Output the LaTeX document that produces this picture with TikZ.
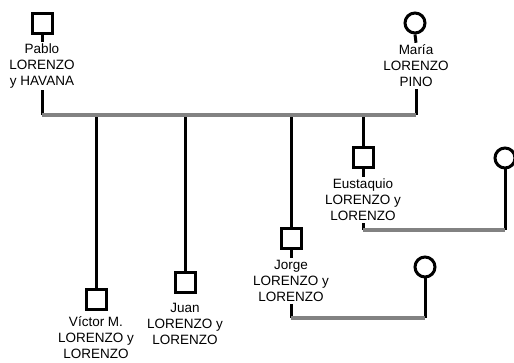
\documentclass[tikz,border=0pt]{standalone}
\usepackage{fontspec}
\setmainfont{Liberation Sans}
\usetikzlibrary{positioning}
\definecolor{mgray}{RGB}{130,130,130}
\tikzset{
  male/.style={draw, rectangle, line width=3pt, minimum size=20pt, inner sep=0pt},
  fem/.style={draw, circle, line width=3pt, minimum size=20pt, inner sep=0pt},
  pname/.style={font=\fontsize{13.5}{16}\selectfont, align=center, inner sep=2pt},
  kin/.style={black, line width=3pt},
  mar/.style={mgray, line width=3.5pt},
}

\begin{document}
\begin{tikzpicture}[x=1pt, y=-1pt]
        \useasboundingbox (0,0) rectangle (514,363);
        % parents
        \node[male] (pablo) at (42,24) {};
        \node[pname] (pablol) at (42,66) {Pablo\\LORENZO\\y HAVANA};
        \node[fem] (maria) at (415,23) {};
        \node[pname] (marial) at (416,66) {María\\LORENZO\\PINO};
        \coordinate (pj) at (42,115);
        \coordinate (mj) at (416,115);
        \draw[kin] (pablo.south) -- (pablol.north);
        \draw[kin] (maria.south) -- (marial.north);
        \draw[kin] (pablol.south) -- (pj);
        \draw[kin] (marial.south) -- (mj);
        % children
        \node[male] (victor) at (96,300) {};
        \node[pname] (victorl) at (96,338) {Víctor M.\\LORENZO y\\LORENZO};
        \node[male] (juan) at (185,283) {};
        \node[pname] (juanl) at (185,324) {Juan\\LORENZO y\\LORENZO};
        \node[male] (jorge) at (291,239) {};
        \node[pname] (jorgel) at (291,281) {Jorge\\LORENZO y\\LORENZO};
        \node[male] (eust) at (363,158) {};
        \node[pname] (eustl) at (363,200) {Eustaquio\\LORENZO y\\LORENZO};
        \foreach \c/\x in {victor/96,juan/185,jorge/291,eust/363}{
          \coordinate (\c j) at (\x,115);
          \draw[kin] (\c j) -- (\c.north);
        }
        \draw[kin] (jorge.south) -- (jorgel.north);
        \draw[kin] (eust.south) -- (eustl.north);
        % spouses
        \node[fem] (jorges) at (425,267) {};
        \node[fem] (eusts) at (505,158) {};
        \coordinate (jl) at (291,318);
        \coordinate (jr) at (425,318);
        \coordinate (el) at (363,230);
        \coordinate (er) at (505,230);
        \draw[kin] (jorgel.south) -- (jl);
        \draw[kin] (jorges.south) -- (jr);
        \draw[kin] (eustl.south) -- (el);
        \draw[kin] (eusts.south) -- (er);
        \draw[mar] (pj) -- (mj);
        \draw[mar] (jl) -- (jr);
        \draw[mar] (el) -- (er);
\end{tikzpicture}
\end{document}
